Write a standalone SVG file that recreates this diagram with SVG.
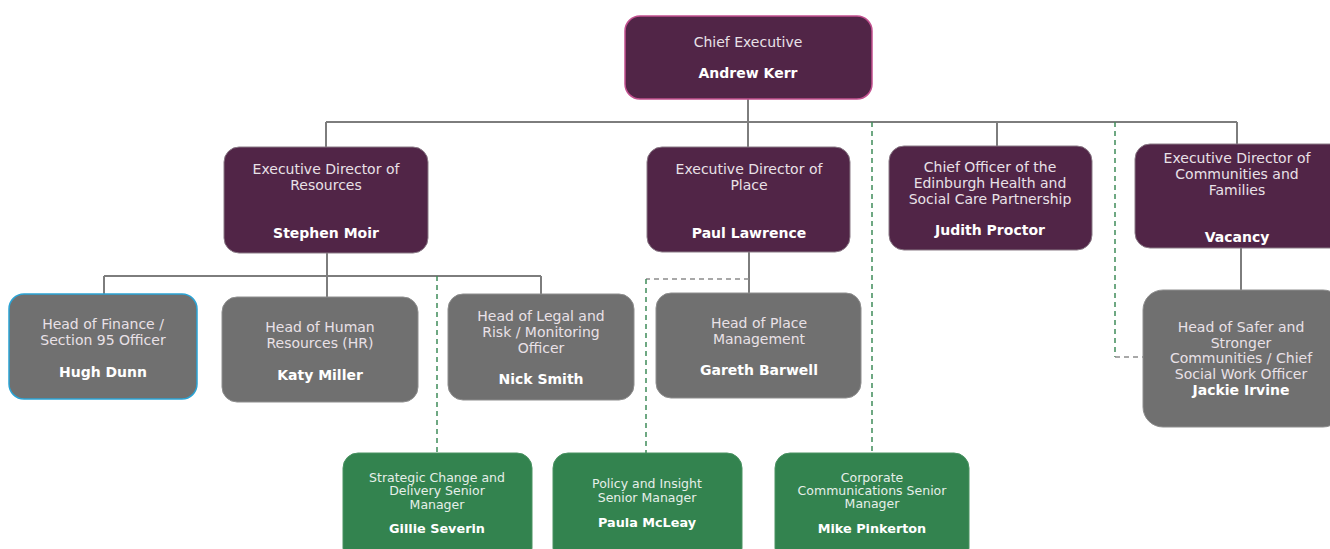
<svg xmlns="http://www.w3.org/2000/svg" width="1330" height="549" viewBox="0 0 1330 549">
  <style>
    .exec { fill: #512547; stroke: #8a7a86; stroke-width: 1; }
    .head { fill: #707070; stroke: #8e8e8e; stroke-width: 1; }
    .team { fill: #33834f; stroke: #4a9363; stroke-width: 1; }
    .role { font-family: "DejaVu Sans", Verdana, sans-serif; font-size: 14px; fill: #e9e1e7; text-anchor: middle; }
    .name { font-family: "DejaVu Sans", Verdana, sans-serif; font-size: 14px; font-weight: bold; fill: #ffffff; text-anchor: middle; }
    .trole { font-family: "DejaVu Sans", Verdana, sans-serif; font-size: 12.5px; fill: #e6efe9; text-anchor: middle; }
    .tname { font-family: "DejaVu Sans", Verdana, sans-serif; font-size: 12.8px; font-weight: bold; fill: #ffffff; text-anchor: middle; }
    .line { fill: none; stroke: #7d7d7d; stroke-width: 2; }
    .dot-green { fill: none; stroke: #3f8c59; stroke-width: 1.5; stroke-dasharray: 5 4; }
    .dot-grey { fill: none; stroke: #8c8c8c; stroke-width: 1.5; stroke-dasharray: 5 4; }
  </style>

  <!-- reporting lines -->
  <g id="connectors">
    <path class="line" d="M748 99 V122 M326 122 H1237 M326 122 V147 M748 122 V147 M997 122 V146 M1237 122 V144"/>
    <path class="line" d="M327 253 V276 M104 276 H541 M104 276 V294 M327 276 V297 M541 276 V294"/>
    <path class="line" d="M749 252 V293"/>
    <path class="line" d="M1241 248 V290"/>
    <path class="dot-green" d="M437 276 V453"/>
    <path class="dot-grey" d="M749 279 H646"/>
    <path class="dot-green" d="M646 279 V453"/>
    <path class="dot-green" d="M872 122 V453"/>
    <path class="dot-green" d="M1115 122 V357"/>
    <path class="dot-grey" d="M1115 357 H1143"/>
  </g>

  <g id="chief-executive">
    <rect x="625" y="16" width="247" height="83" rx="15" fill="#512547" stroke="#c2508f" stroke-width="1.5"/>
    <text class="role" x="748" y="47">Chief Executive</text>
    <text class="name" x="748" y="78">Andrew Kerr</text>
  </g>

  <g id="director-resources">
    <rect class="exec" x="224" y="147" width="204" height="106" rx="15"/>
    <text class="role" x="326" y="174">Executive Director of</text>
    <text class="role" x="326" y="190">Resources</text>
    <text class="name" x="326" y="238">Stephen Moir</text>
  </g>

  <g id="director-place">
    <rect class="exec" x="647" y="147" width="203" height="105" rx="15"/>
    <text class="role" x="749" y="174">Executive Director of</text>
    <text class="role" x="749" y="190">Place</text>
    <text class="name" x="749" y="238">Paul Lawrence</text>
  </g>

  <g id="chief-officer-health">
    <rect class="exec" x="889" y="146" width="203" height="104" rx="15"/>
    <text class="role" x="990" y="172">Chief Officer of the</text>
    <text class="role" x="990" y="188">Edinburgh Health and</text>
    <text class="role" x="990" y="204">Social Care Partnership</text>
    <text class="name" x="990" y="235">Judith Proctor</text>
  </g>

  <g id="director-communities">
    <rect class="exec" x="1135" y="144" width="210" height="104" rx="15"/>
    <text class="role" x="1237" y="163">Executive Director of</text>
    <text class="role" x="1237" y="179">Communities and</text>
    <text class="role" x="1237" y="195">Families</text>
    <text class="name" x="1237" y="242">Vacancy</text>
  </g>

  <g id="head-finance">
    <rect x="9" y="294" width="188" height="105" rx="15" fill="#707070" stroke="#2ba3d4" stroke-width="1.5"/>
    <text class="role" x="103" y="329">Head of Finance /</text>
    <text class="role" x="103" y="345">Section 95 Officer</text>
    <text class="name" x="103" y="377">Hugh Dunn</text>
  </g>

  <g id="head-hr">
    <rect class="head" x="222" y="297" width="196" height="105" rx="15"/>
    <text class="role" x="320" y="332">Head of Human</text>
    <text class="role" x="320" y="348">Resources (HR)</text>
    <text class="name" x="320" y="380">Katy Miller</text>
  </g>

  <g id="head-legal">
    <rect class="head" x="448" y="294" width="186" height="106" rx="15"/>
    <text class="role" x="541" y="321">Head of Legal and</text>
    <text class="role" x="541" y="337">Risk / Monitoring</text>
    <text class="role" x="541" y="353">Officer</text>
    <text class="name" x="541" y="384">Nick Smith</text>
  </g>

  <g id="head-place">
    <rect class="head" x="656" y="293" width="205" height="105" rx="15"/>
    <text class="role" x="759" y="328">Head of Place</text>
    <text class="role" x="759" y="344">Management</text>
    <text class="name" x="759" y="375">Gareth Barwell</text>
  </g>

  <g id="head-safer">
    <rect class="head" x="1143" y="290" width="200" height="137" rx="20"/>
    <text class="role" x="1241" y="332">Head of Safer and</text>
    <text class="role" x="1241" y="348">Stronger</text>
    <text class="role" x="1241" y="363">Communities / Chief</text>
    <text class="role" x="1241" y="379">Social Work Officer</text>
    <text class="name" x="1241" y="395">Jackie Irvine</text>
  </g>

  <g id="strategic-change">
    <rect class="team" x="343" y="453" width="189" height="110" rx="15"/>
    <text class="trole" x="437" y="482">Strategic Change and</text>
    <text class="trole" x="437" y="495">Delivery Senior</text>
    <text class="trole" x="437" y="509">Manager</text>
    <text class="tname" x="437" y="533">Gillie Severin</text>
  </g>

  <g id="policy-insight">
    <rect class="team" x="553" y="453" width="189" height="110" rx="15"/>
    <text class="trole" x="647" y="488">Policy and Insight</text>
    <text class="trole" x="647" y="502">Senior Manager</text>
    <text class="tname" x="647" y="527">Paula McLeay</text>
  </g>

  <g id="corporate-comms">
    <rect class="team" x="775" y="453" width="194" height="110" rx="15"/>
    <text class="trole" x="872" y="482">Corporate</text>
    <text class="trole" x="872" y="495">Communications Senior</text>
    <text class="trole" x="872" y="508">Manager</text>
    <text class="tname" x="872" y="533">Mike Pinkerton</text>
  </g>
</svg>
